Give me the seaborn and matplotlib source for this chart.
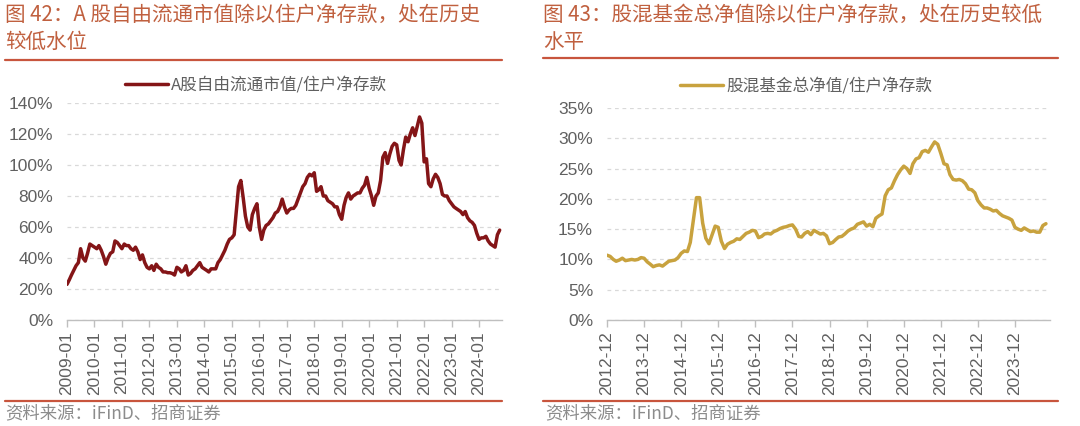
import matplotlib
matplotlib.use("Agg")
import matplotlib.pyplot as plt
import matplotlib.ticker as mticker
import seaborn as sns
import pandas as pd
import numpy as np

# ---------------- data ----------------
left_start = "2009-01"
left_values = [
    23, 26, 29, 32, 35, 37, 46, 40, 38, 43, 49, 48,        # 2009
    47, 46, 48, 45, 41, 36, 40, 43, 44, 51, 50, 48,        # 2010
    46, 49, 48, 48, 46, 45, 47, 44, 39, 42, 37, 34,        # 2011
    33, 35, 32, 36, 34, 33, 31, 31, 30.5, 30.5, 30, 29,    # 2012
    34, 33, 31, 32, 35, 29, 30, 32, 33, 35, 37, 34,        # 2013
    33, 32, 31, 33, 33, 33, 37, 39, 42, 45, 49, 52,        # 2014
    53, 55, 70, 86, 90, 79, 67, 60, 58, 68, 72, 75,        # 2015
    60, 52, 58, 61, 62, 64, 66, 69, 70, 73, 78, 73,        # 2016
    69, 71, 72, 72, 74, 78, 82, 86, 88, 92, 94, 93,        # 2017
    95, 83, 84, 86, 80, 80, 77, 76, 75, 73, 73, 68,        # 2018
    65, 74, 79, 82, 78, 80, 81, 82, 82, 85, 87, 92,        # 2019
    85, 80, 74, 80, 82, 90, 105, 108, 101, 107, 112, 114,  # 2020
    113, 103, 100, 110, 118, 115, 120, 124, 119, 125, 131, 127,  # 2021
    102, 104, 88, 86, 91, 94, 92, 88, 81, 80, 80, 77,      # 2022
    75, 73, 72, 71, 70, 68, 70, 66, 64, 63, 61, 56,        # 2023
    52, 53, 53, 54, 51, 49, 48, 47, 55, 58,                # 2024
]
left_ticks = [f"{y}-01" for y in range(2009, 2025)]
left_label = "A股自由流通市值/住户净存款"
left_title = "图 42：A 股自由流通市值除以住户净存款，处在历史\n较低水位"

right_start = "2012-12"
right_values = [
    10.7, 10.5, 10.0, 9.7, 9.9, 10.2, 9.8, 9.9, 10.0, 9.9, 10.0, 10.3,
    10.2, 9.6, 9.2, 8.8, 9.0, 9.1, 8.9, 9.3, 9.7, 9.8, 9.9, 10.3,
    11.0, 11.4, 11.3, 12.8, 16.5, 20.2, 20.2, 16.0, 13.5, 12.6, 14.0, 15.5,
    15.3, 13.0, 11.8, 12.5, 12.8, 13.0, 13.4, 13.3, 13.8, 14.3, 14.5, 14.8,
    14.7, 13.6, 13.8, 14.2, 14.3, 14.2, 14.6, 14.8, 15.1, 15.3, 15.4, 15.6,
    15.7, 15.0, 13.8, 13.7, 14.3, 14.6, 14.1, 14.8, 14.5, 14.2, 14.3, 13.9,
    12.6, 12.8, 13.3, 13.7, 13.8, 14.2, 14.7, 15.0, 15.2, 15.8, 16.0, 16.2,
    15.5, 15.8, 15.4, 16.8, 17.2, 17.5, 20.5, 21.5, 21.8, 23.0, 24.0, 24.8,
    25.4, 25.0, 24.2, 25.8, 26.6, 26.8, 27.8, 28.0, 27.7, 28.6, 29.4, 29.0,
    27.5, 25.8, 25.6, 24.0, 23.2, 23.1, 23.2, 23.0, 22.5, 21.6, 21.5, 21.0,
    19.7, 19.0, 18.5, 18.5, 18.3, 18.0, 18.1, 17.6, 17.2, 17.0, 16.8, 16.5,
    15.3, 15.0, 14.8, 15.2, 14.9, 14.6, 14.7, 14.5, 14.5, 15.6, 15.9,
]
right_ticks = [f"{y}-12" for y in range(2012, 2024)]
right_label = "股混基金总净值/住户净存款"
right_title = "图 43：股混基金总净值除以住户净存款，处在历史较低\n水平"

source_text = "资料来源：iFinD、招商证券"

# ---------------- style ----------------
sns.set_theme(style="white")
CJK = ["Noto Sans CJK SC", "DejaVu Sans"]
plt.rcParams["font.family"] = ["Liberation Sans", "Noto Sans CJK SC", "DejaVu Sans"]

TITLE_COLOR = "#C0603F"
RULE_COLOR = "#C8553D"
TICK_COLOR = "#606060"
GRID_COLOR = "#D9D9D9"

W, H = 1080, 426
fig = plt.figure(figsize=(W / 100, H / 100), dpi=100)


def fx(px):
    return px / W


def fy(py):
    return 1 - py / H


def make_panel(rect, start, values, ticks, label, color, ymax, ystep, xend, legend_xy):
    ax = fig.add_axes(rect)
    dates = pd.date_range(pd.Timestamp(start), periods=len(values), freq="MS")
    df = pd.DataFrame({"date": dates, "value": np.array(values) / 100.0})
    sns.lineplot(data=df, x="date", y="value", ax=ax, color=color, lw=2.5,
                 label=label, legend=False)
    ax.set_xlim(pd.Timestamp(start), pd.Timestamp(xend))
    ax.set_ylim(0, ymax)
    ax.yaxis.set_major_locator(mticker.MultipleLocator(ystep))
    ax.yaxis.set_major_formatter(mticker.PercentFormatter(1.0, decimals=0))
    tick_dates = [pd.Timestamp(t) for t in ticks]
    ax.set_xticks(tick_dates)
    ax.set_xticklabels(ticks, rotation=90)
    ax.set_xlabel("")
    ax.set_ylabel("")
    for s in ["top", "right", "left"]:
        ax.spines[s].set_visible(False)
    ax.spines["bottom"].set_color("#BFBFBF")
    ax.spines["bottom"].set_linewidth(1.0)
    ax.tick_params(axis="x", which="major", bottom=True, length=5, width=1,
                   color="#BFBFBF", labelsize=12.5, labelcolor=TICK_COLOR, pad=3)
    ax.tick_params(axis="y", left=False, labelsize=12.5, labelcolor=TICK_COLOR, pad=4)
    ax.grid(axis="y", color=GRID_COLOR, linestyle=(0, (3, 3)), linewidth=0.9)
    ax.grid(axis="x", visible=False)
    ax.set_axisbelow(True)
    leg = ax.legend(loc="center", bbox_to_anchor=legend_xy,
                    bbox_transform=fig.transFigure, frameon=False,
                    handlelength=2.6, handletextpad=0.2,
                    prop={"family": CJK, "size": 12})
    for t in leg.get_texts():
        t.set_color(TICK_COLOR)
    return ax


ax1 = make_panel([fx(67), fy(320), fx(502 - 67), (320 - 103) / H],
                 left_start, left_values, left_ticks, left_label, "#841517",
                 1.40, 0.20, "2024-11-01", (fx(256), fy(85)))
ax2 = make_panel([fx(607), fy(320), fx(1050 - 607), (320 - 108) / H],
                 right_start, right_values, right_ticks, right_label, "#C8A23E",
                 0.35, 0.05, "2024-11-10", (fx(806), fy(86)))

# titles
fig.text(fx(5), fy(4), left_title, ha="left", va="top", fontsize=14.8,
         color=TITLE_COLOR, family=CJK, fontweight="medium", linespacing=1.3)
fig.text(fx(543), fy(4), right_title, ha="left", va="top", fontsize=14.8,
         color=TITLE_COLOR, family=CJK, fontweight="medium", linespacing=1.3)

# rules
for x0, x1, y in [(5, 502, 60), (543, 1058, 58), (5, 502, 401), (543, 1058, 401)]:
    fig.add_artist(plt.Line2D([fx(x0), fx(x1)], [fy(y), fy(y)],
                              transform=fig.transFigure, color=RULE_COLOR, lw=1.6))

# sources
fig.text(fx(5), fy(413), source_text, ha="left", va="center", fontsize=12.5,
         color="#8C8C8C", family=CJK)
fig.text(fx(545), fy(413), source_text, ha="left", va="center", fontsize=12.5,
         color="#8C8C8C", family=CJK)

fig.savefig("out.png", dpi=100, facecolor="white")
